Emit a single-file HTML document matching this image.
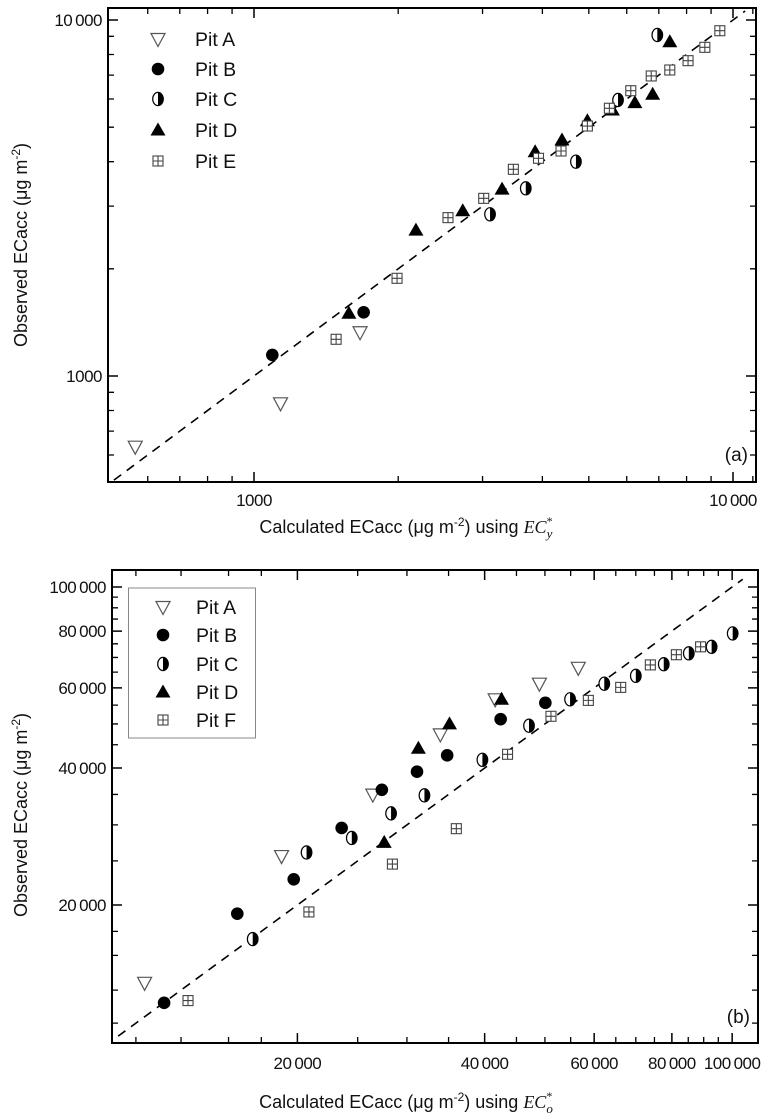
<!DOCTYPE html>
<html><head><meta charset="utf-8"><style>
html,body{margin:0;padding:0;background:#fff;}
svg{display:block;font-family:"Liberation Sans",Arial,sans-serif;}
</style></head><body>
<svg id="fig" width="771" height="1120" viewBox="0 0 771 1120" xmlns="http://www.w3.org/2000/svg"></svg>
<script>
// ---------- Panel (a) data ----------
const aPitA_x=[565,1136,1665];
const aPitA_y=[633,838,1327];
const aPitB_x=[1092,1694];
const aPitB_y=[1146,1510];
const aPitC_x=[3110,3693,4700,5754,6950];
const aPitC_y=[2846,3366,4000,5960,9075];
const aPitD_x=[1578,2178,2728,3295,3863,4395,4966,5600,6240,6796,7380];
const aPitD_y=[1500,2570,2912,3350,4266,4600,5213,5586,5858,6185,8690];
const aPitE_x=[1484,1989,2541,3017,3479,3926,4375,4966,5520,6118,6750,7380,8057,8734,9387];
const aPitE_y=[1268,1881,2785,3155,3807,4088,4286,5037,5650,6330,6963,7237,7687,8380,9330];
const aLine=[510,10600];
const aXTickLabels=[1000,10000];
const aYTickLabels=[1000,10000];
// ---------- Panel (b) data ----------
const bPitA_x=[11360,18860,26440,33950,41590,48990,56570];
const bPitA_y=[13490,25620,34960,47430,56640,61300,66420];
const bPitB_x=[12210,16010,19730,23560,27340,31140,34820,42440,50080];
const bPitB_y=[12190,19140,22780,29540,35830,39260,42650,51220,55630];
const bPitC_x=[16950,20690,24460,28290,32010,39670,47140,54880,62290,70000,77630,85170,92680,100200];
const bPitC_y=[16830,26090,28080,31800,34840,41700,49550,56640,61300,63780,67640,71480,73870,79060];
const bPitD_x=[27580,31300,35120,42580];
const bPitD_y=[27460,44220,50000,56640];
const bPitF_x=[13340,20870,28430,36020,43540,51130,58720,66190,73870,81340,88970];
const bPitF_y=[12330,19310,24600,29430,42880,51970,56330,60160,67410,70970,73870];
const bLine=[10300,104000];
const bXTickLabels=[20000,40000,60000,80000,100000];
const bYTickLabels=[20000,40000,60000,80000,100000];

const NS="http://www.w3.org/2000/svg";
const svg=document.getElementById('fig');
function mk(tag,attrs,parent){const e=document.createElementNS(NS,tag);for(const k in attrs)e.setAttribute(k,attrs[k]);(parent||svg).appendChild(e);return e;}

function logScale(v0,p0,decade){return v=>p0+(Math.log10(v)-Math.log10(v0))*decade;}

function marker(g,type,x,y){
  let e;
  if(type==='A'){
    e=mk('path',{d:`M${x-7},${y-5.5} L${x+7},${y-5.5} L${x},${y+7.5} Z`,fill:'#fff',stroke:'#555','stroke-width':1.2},g);
  }else if(type==='B'){
    e=mk('circle',{cx:x,cy:y,r:6.3,fill:'#000'},g);
  }else if(type==='C'){
    e=mk('g',{},g);
    mk('ellipse',{cx:x,cy:y,rx:5.3,ry:6.6,fill:'#fff',stroke:'#000','stroke-width':1.2},e);
    mk('path',{d:`M${x},${y-6.6} A5.3,6.6 0 0 1 ${x},${y+6.6} Z`,fill:'#000'},e);
  }else if(type==='D'){
    e=mk('path',{d:`M${x},${y-7.5} L${x+7.5},${y+5.5} L${x-7.5},${y+5.5} Z`,fill:'#000'},g);
  }else{
    e=mk('g',{},g);
    mk('rect',{x:x-5,y:y-5,width:10,height:10,fill:'#fff',stroke:'#444','stroke-width':1.1},e);
    mk('path',{d:`M${x},${y-5}V${y+5}M${x-5},${y}H${x+5}`,stroke:'#444','stroke-width':1.1},e);
  }
  return e;
}

function panel(cfg){
  const g=mk('g',{});
  
  
  const X=cfg.X,Y=cfg.Y,L=cfg.L,R=cfg.R,T=cfg.T,B=cfg.B;
  cfg.xMinor.forEach(v=>{const p=X(v);if(p<=L||p>=R)return;
    const t=mk('path',{d:`M${p},${B}V${B-6}M${p},${T}V${T+6}`,stroke:'#000','stroke-width':1.3},g);
    });
  cfg.yMinor.forEach(v=>{const p=Y(v);if(p<=T||p>=B)return;
    const t=mk('path',{d:`M${L},${p}H${L+6}M${R},${p}H${R-6}`,stroke:'#000','stroke-width':1.3},g);
    });
  cfg.xLabels.forEach(v=>{const p=X(v);
    const t=mk('path',{d:`M${p},${B}V${B-10}M${p},${T}V${T+10}`,stroke:'#000','stroke-width':1.5},g);
    
    const tx=mk('text',{x:p,y:B+cfg.xlabOff,'text-anchor':'middle','font-size':17,fill:'#111','letter-spacing':'-0.5'},g);
    tx.textContent=cfg.fmt(v);
    });
  cfg.yLabels.forEach(v=>{const p=Y(v);
    const t=mk('path',{d:`M${L},${p}H${L+10}M${R},${p}H${R-10}`,stroke:'#000','stroke-width':1.5},g);
    
    const tx=mk('text',{x:L-6,y:p+6,'text-anchor':'end','font-size':17,fill:'#111','letter-spacing':'-0.5'},g);
    tx.textContent=cfg.fmt(v);
    });
  const fr=mk('rect',{x:L,y:T,width:R-L,height:B-T,fill:'none',stroke:'#000','stroke-width':2},g);
  
  const ln=mk('line',{x1:X(cfg.line[0]),y1:Y(cfg.line[0]),x2:X(cfg.line[1]),y2:Y(cfg.line[1]),stroke:'#000','stroke-width':1.6,'stroke-dasharray':'9,7'},g);
  
  cfg.series.forEach(s=>{
    const sg=mk('g',{},g);
    
    
    s.xs.forEach((xv,i)=>{const m=marker(sg,s.type,X(xv),Y(s.ys[i]));
      
      });
  });
  const lg=mk('g',{},g);
  
  if(cfg.legBox){const r=mk('rect',{x:cfg.legBox[0],y:cfg.legBox[1],width:cfg.legBox[2],height:cfg.legBox[3],fill:'#fff',stroke:'#888','stroke-width':1},lg);
    }
  cfg.series.forEach((s,i)=>{const yy=cfg.legY[i];
    const eg=mk('g',{},lg);
    
    marker(eg,s.type,cfg.legMX,yy);
    const t=mk('text',{x:cfg.legTX,y:yy+7,'font-size':19.5,fill:'#111'},eg);t.textContent=s.label;});
  const pl=mk('text',{x:R-8,y:cfg.tagY,'text-anchor':'end','font-size':19,fill:'#111'},g);
  pl.textContent=cfg.tag;
  const yt=mk('text',{x:0,y:0,transform:`translate(${cfg.ytX},${cfg.ytY}) rotate(-90)`,'text-anchor':'middle','font-size':18,fill:'#111'},g);
  yt.innerHTML='Observed ECacc (μg m<tspan dy="-7" font-size="12">-2</tspan><tspan dy="7">)</tspan>';
  
  const xt=mk('text',{x:cfg.xtX,y:cfg.xtY,'text-anchor':'middle','font-size':18,fill:'#111'},g);
  xt.innerHTML='Calculated ECacc (μg m<tspan dy="-7" font-size="12">-2</tspan><tspan dy="7">) using </tspan><tspan font-family="Liberation Serif,serif" font-style="italic">EC</tspan><tspan font-family="Liberation Serif,serif" font-size="12" dy="-8">*</tspan><tspan font-family="Liberation Serif,serif" font-style="italic" font-size="13" dx="-6" dy="13">'+cfg.sub+'</tspan>';
  
}

function range(a,b,s){const r=[];for(let v=a;v<=b+1e-9;v+=s)r.push(v);return r;}
const fmtA=v=>v>=10000?'10\u2009000':String(v);
const fmtB=v=>{const s=String(v);return s.length>3?s.slice(0,s.length-3)+'\u2009'+s.slice(-3):s;};

panel({name:'panel-a',L:108,R:756,T:8,B:482,
  X:logScale(1000,254,479),Y:v=>376-(Math.log10(v)-3)*356,
  xMinor:[600,700,800,900].concat(range(2000,9000,1000),[11000]),
  yMinor:[600,700,800,900].concat(range(2000,9000,1000)),
  xLabels:aXTickLabels,yLabels:aYTickLabels,fmt:fmtA,line:aLine,xlabOff:24,
  series:[{label:'Pit A',type:'A',xs:aPitA_x,ys:aPitA_y},{label:'Pit B',type:'B',xs:aPitB_x,ys:aPitB_y},
    {label:'Pit C',type:'C',xs:aPitC_x,ys:aPitC_y},{label:'Pit D',type:'D',xs:aPitD_x,ys:aPitD_y},
    {label:'Pit E',type:'E',xs:aPitE_x,ys:aPitE_y}],
  legY:[39,69,99,130,161],legMX:158,legTX:195,tag:'(a)',tagY:461,
  ytX:27,ytY:245,xtX:406,xtY:533,sub:'y'});

panel({name:'panel-b',L:112,R:758,T:570,B:1043,
  X:v=>297.4+(Math.log10(v)-Math.log10(20000))*622,Y:v=>905-(Math.log10(v)-Math.log10(20000))*455,
  xMinor:[11000,13000,15500,17500].concat(range(25000,35000,5000),range(45000,55000,5000),[65000,70000,75000,85000,90000,95000]),
  yMinor:[11000,13000,15500,17500].concat(range(25000,35000,5000),range(45000,55000,5000),[65000,70000,75000,85000,90000,95000]),
  xLabels:bXTickLabels,yLabels:bYTickLabels,fmt:fmtB,line:bLine,xlabOff:26,
  series:[{label:'Pit A',type:'A',xs:bPitA_x,ys:bPitA_y},{label:'Pit B',type:'B',xs:bPitB_x,ys:bPitB_y},
    {label:'Pit C',type:'C',xs:bPitC_x,ys:bPitC_y},{label:'Pit D',type:'D',xs:bPitD_x,ys:bPitD_y},
    {label:'Pit F',type:'E',xs:bPitF_x,ys:bPitF_y}],
  legBox:[128.5,588,127,150],legY:[607,635,664,692,720],legMX:163,legTX:196,tag:'(b)',tagY:1023,
  ytX:27,ytY:815,xtX:406,xtY:1108,sub:'o'});
</script>
</body></html>
